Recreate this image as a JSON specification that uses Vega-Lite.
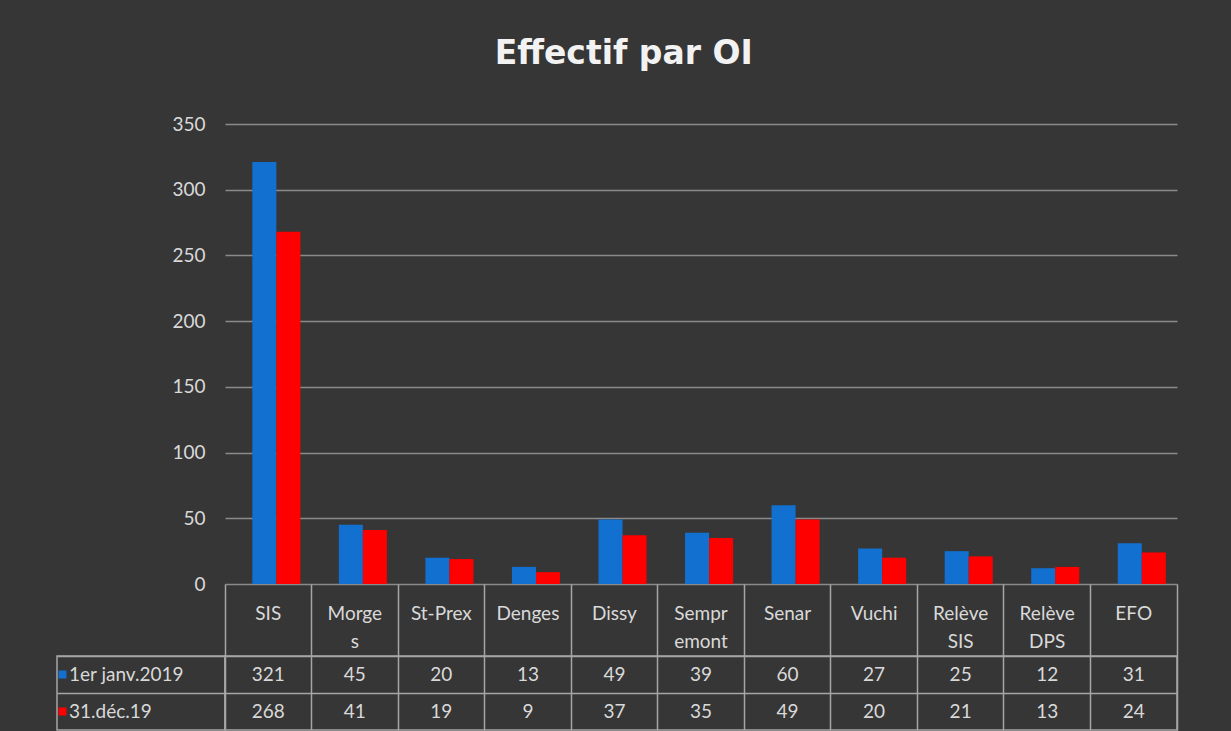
{
  "$schema": "https://vega.github.io/schema/vega-lite/v6.json",
  "background": "#363636",
  "padding": {"left": 53, "right": 58, "top": 38, "bottom": 0},
  "title": {"text": "Effectif par OI", "fontSize": 33, "font": "DejaVu Sans", "fontWeight": "bold", "color": "#f2f2f2", "anchor": "middle", "offset": 44, "dx": 8},
  "config": {
    "view": {"stroke": null},
    "font": "Lato"
  },
  "datasets": {
    "main": [
      {"cat": "SIS", "series": "1er janv.2019", "value": 321},
      {"cat": "Morges", "series": "1er janv.2019", "value": 45},
      {"cat": "St-Prex", "series": "1er janv.2019", "value": 20},
      {"cat": "Denges", "series": "1er janv.2019", "value": 13},
      {"cat": "Dissy", "series": "1er janv.2019", "value": 49},
      {"cat": "Sempremont", "series": "1er janv.2019", "value": 39},
      {"cat": "Senar", "series": "1er janv.2019", "value": 60},
      {"cat": "Vuchi", "series": "1er janv.2019", "value": 27},
      {"cat": "Relève SIS", "series": "1er janv.2019", "value": 25},
      {"cat": "Relève DPS", "series": "1er janv.2019", "value": 12},
      {"cat": "EFO", "series": "1er janv.2019", "value": 31},
      {"cat": "SIS", "series": "31.déc.19", "value": 268},
      {"cat": "Morges", "series": "31.déc.19", "value": 41},
      {"cat": "St-Prex", "series": "31.déc.19", "value": 19},
      {"cat": "Denges", "series": "31.déc.19", "value": 9},
      {"cat": "Dissy", "series": "31.déc.19", "value": 37},
      {"cat": "Sempremont", "series": "31.déc.19", "value": 35},
      {"cat": "Senar", "series": "31.déc.19", "value": 49},
      {"cat": "Vuchi", "series": "31.déc.19", "value": 20},
      {"cat": "Relève SIS", "series": "31.déc.19", "value": 21},
      {"cat": "Relève DPS", "series": "31.déc.19", "value": 13},
      {"cat": "EFO", "series": "31.déc.19", "value": 24}
    ],
    "rows": [
      {"series": "1er janv.2019"},
      {"series": "31.déc.19"}
    ]
  },
  "columns": 2,
  "bounds": "flush",
  "align": "each",
  "spacing": {"row": 72, "column": 0},
  "concat": [
    {
      "width": 168,
      "height": 460,
      "data": {"name": "rows"},
      "mark": {"type": "point", "opacity": 0},
      "encoding": {}
    },
    {
      "width": 952,
      "height": 460,
      "data": {"name": "main"},
      "mark": {"type": "bar"},
      "encoding": {
        "x": {
          "field": "cat", "type": "nominal", "sort": null,
          "scale": {"paddingInner": 0, "paddingOuter": 0},
          "axis": {
            "title": null,
            "labelExpr": "datum.value == null ? '' : datum.value == 'Morges' ? ['Morge','s'] : datum.value == 'Sempremont' ? ['Sempr','emont'] : split(datum.value, ' ')",
            "labelAngle": 0,
            "labelColor": "#d9d9d9",
            "labelFontSize": 19,
            "labelFont": "Lato",
            "labelBaseline": "top",
            "labelLineHeight": 28,
            "labelPadding": -52,
            "ticks": true,
            "tickSize": 72,
            "tickColor": "#a6a6a6",
            "tickWidth": 1.5,
            "bandPosition": 1,
            "tickExtra": true,
            "domain": false,
            "grid": false
          }
        },
        "xOffset": {"field": "series", "type": "nominal", "sort": null, "scale": {"paddingOuter": 0.8, "paddingInner": 0, "align": 0.71}},
        "y": {
          "field": "value", "type": "quantitative",
          "scale": {"domain": [0, 350], "nice": false},
          "axis": {
            "title": null,
            "values": [0, 50, 100, 150, 200, 250, 300, 350],
            "grid": true,
            "gridColor": "#8a8a8a",
            "gridWidth": 1.5,
            "domain": false,
            "ticks": false,
            "labelColor": "#d9d9d9",
            "labelFontSize": 19,
            "labelFont": "Lato",
            "labelPadding": 20
          }
        },
        "color": {
          "field": "series", "type": "nominal", "sort": null,
          "scale": {"domain": ["1er janv.2019", "31.déc.19"], "range": ["#1170d0", "#ff0000"]},
          "legend": {
            "orient": "none",
            "legendX": -4,
            "legendY": 541,
            "title": null,
            "symbolType": "square",
            "symbolSize": 64,
            "symbolStrokeWidth": 0,
            "labelFontSize": 19,
            "labelColor": "#d9d9d9",
            "labelFont": "Lato",
            "labelOffset": -3,
            "rowPadding": 17,
            "padding": 0
          }
        }
      }
    },
    {
      "width": 168,
      "height": 74,
      "data": {"name": "rows"},
      "mark": {"type": "text", "text": ""},
      "encoding": {
        "y": {
          "field": "series", "type": "nominal", "sort": null,
          "scale": {"type": "band", "paddingInner": 0, "paddingOuter": 0},
          "axis": {"orient": "right", "title": null, "labels": false, "ticks": true, "tickSize": -168, "tickColor": "#a6a6a6", "tickWidth": 1.5, "bandPosition": 0, "domain": false, "grid": false}
        }
      },
      "view": {"stroke": "#a6a6a6", "strokeWidth": 1.5}
    },
    {
      "width": 952,
      "height": 74,
      "data": {"name": "main"},
      "mark": {"type": "text", "fontSize": 19, "color": "#d9d9d9", "font": "Lato"},
      "encoding": {
        "x": {
          "field": "cat", "type": "nominal", "sort": null,
          "scale": {"type": "band", "paddingInner": 0, "paddingOuter": 0},
          "axis": {"orient": "top", "title": null, "labels": false, "ticks": true, "tickSize": -74, "tickColor": "#a6a6a6", "tickWidth": 1.5, "bandPosition": 1, "tickExtra": true, "domain": false, "grid": false}
        },
        "y": {
          "field": "series", "type": "nominal", "sort": null,
          "scale": {"type": "band", "paddingInner": 0, "paddingOuter": 0},
          "axis": {"orient": "left", "title": null, "labels": false, "ticks": true, "tickSize": -952, "tickColor": "#a6a6a6", "tickWidth": 1.5, "bandPosition": 0, "domain": false, "grid": false}
        },
        "text": {"field": "value", "type": "quantitative"}
      },
      "view": {"stroke": "#a6a6a6", "strokeWidth": 1.5}
    }
  ]
}
